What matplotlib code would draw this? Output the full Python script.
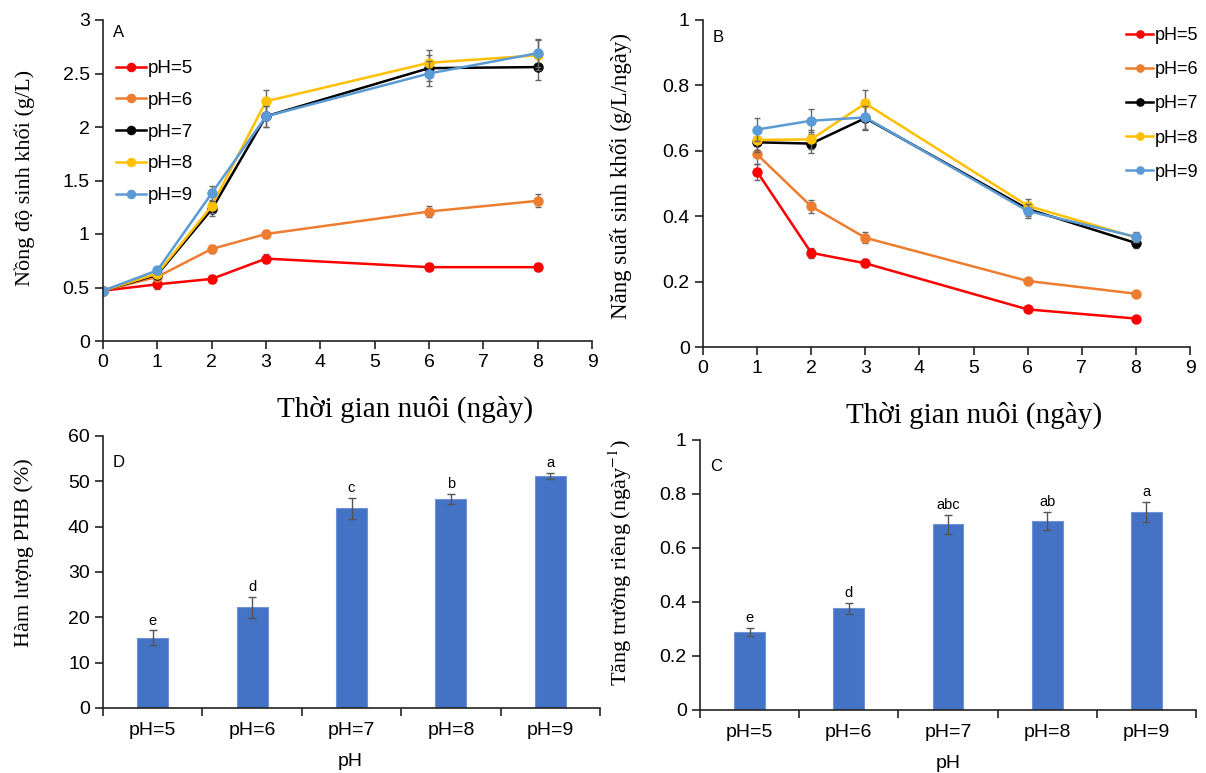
import numpy as np
import matplotlib
matplotlib.use("Agg")
import matplotlib.pyplot as plt

plt.rcParams['font.family'] = ['Liberation Sans', 'DejaVu Sans']
plt.rcParams['mathtext.fontset'] = 'stix'

# số liệu
days = [0, 1, 2, 3, 6, 8]
days_b = [1, 2, 3, 6, 8]
ph_names = ['pH=5', 'pH=6', 'pH=7', 'pH=8', 'pH=9']
colors = ['#FF0000', '#ED7D31', '#000000', '#FFC000', '#5B9BD5']

# A: nồng độ sinh khối (g/L)
bio_ph5 = [0.47, 0.53, 0.58, 0.77, 0.69, 0.69]
bio_ph6 = [0.47, 0.60, 0.86, 1.00, 1.21, 1.31]
bio_ph7 = [0.47, 0.62, 1.23, 2.10, 2.55, 2.56]
bio_ph8 = [0.47, 0.63, 1.26, 2.24, 2.60, 2.67]
bio_ph9 = [0.47, 0.66, 1.38, 2.10, 2.50, 2.69]
bio_err5 = [0.02, 0.04, 0.04, 0.04, 0.04, 0.04]
bio_err6 = [0.02, 0.03, 0.04, 0.04, 0.05, 0.06]
bio_err7 = [0.02, 0.04, 0.06, 0.10, 0.12, 0.12]
bio_err8 = [0.02, 0.04, 0.06, 0.11, 0.12, 0.14]
bio_err9 = [0.02, 0.03, 0.07, 0.10, 0.12, 0.13]

# B: năng suất sinh khối (g/L/ngày)
prod_ph5 = [0.536, 0.288, 0.256, 0.115, 0.087]
prod_ph6 = [0.589, 0.430, 0.334, 0.202, 0.163]
prod_ph7 = [0.626, 0.622, 0.700, 0.422, 0.318]
prod_ph8 = [0.633, 0.635, 0.745, 0.432, 0.335]
prod_ph9 = [0.665, 0.692, 0.702, 0.416, 0.337]
prod_err5 = [0.025, 0.015, 0.012, 0.008, 0.006]
prod_err6 = [0.03, 0.02, 0.017, 0.01, 0.008]
prod_err7 = [0.03, 0.03, 0.035, 0.02, 0.015]
prod_err8 = [0.03, 0.03, 0.04, 0.02, 0.015]
prod_err9 = [0.035, 0.035, 0.035, 0.02, 0.015]

# D: hàm lượng PHB (%)
phb = [15.5, 22.2, 44.1, 46.2, 51.2]
phb_err = [1.6, 2.3, 2.3, 1.1, 0.6]
phb_letters = ['e', 'd', 'c', 'b', 'a']

# C: tăng trưởng riêng (ngày-1)
mu = [0.288, 0.377, 0.688, 0.700, 0.733]
mu_err = [0.015, 0.02, 0.035, 0.035, 0.038]
mu_letters = ['e', 'd', 'abc', 'ab', 'a']

W, H = 1206, 773
fig = plt.figure(figsize=(W / 100, H / 100), dpi=100)
serif = 'Liberation Serif'
TICK = 14


def rect(l, r, t, b):
    return [l / W, 1 - b / H, (r - l) / W, (b - t) / H]


def style(ax):
    for s in ['top', 'right']:
        ax.spines[s].set_visible(False)
    for s in ['left', 'bottom']:
        ax.spines[s].set_linewidth(1.2)
        ax.spines[s].set_color('#222222')
    ax.tick_params(direction='out', length=6, width=1.2, labelsize=TICK, colors='#222222')
    ax.tick_params(labelcolor='black')


def lines(ax, x, series, errs):
    for y, e, c, n in zip(series, errs, colors, ph_names):
        ax.errorbar(x, y, yerr=e, fmt='none', ecolor='#666666', elinewidth=1, capsize=2.5)
        ax.plot(x, y, color=c, marker='o', markersize=6.5, linewidth=1.8, label=n)


# ---- A
axA = fig.add_axes(rect(103, 592, 20, 341))
lines(axA, days, [bio_ph5, bio_ph6, bio_ph7, bio_ph8, bio_ph9],
      [bio_err5, bio_err6, bio_err7, bio_err8, bio_err9])
axA.set_xlim(0, 9)
axA.set_ylim(0, 3)
axA.set_xticks(range(10))
axA.set_yticks([0, 0.5, 1, 1.5, 2, 2.5, 3])
axA.set_yticklabels(['0', '0.5', '1', '1.5', '2', '2.5', '3'])
style(axA)
axA.text(0.02, 0.985, 'A', transform=axA.transAxes, fontsize=12, va='top')
axA.legend(loc='center left', bbox_to_anchor=(116 / W, 1 - 132 / H), bbox_transform=fig.transFigure,
           frameon=False, fontsize=13.5, handlelength=1.6, handletextpad=0.1,
           labelspacing=0.78, borderaxespad=0, borderpad=0, markerscale=0.9)
fig.text(405 / W, 1 - 409 / H, 'Thời gian nuôi (ngày)', family=serif, fontsize=21,
         ha='center', va='center')
fig.text(25 / W, 1 - 178 / H, 'Nồng độ sinh khối (g/L)', family=serif, fontsize=16,
         rotation=90, ha='center', va='center')

# ---- B
axB = fig.add_axes(rect(703, 1190, 20, 347))
lines(axB, days_b, [prod_ph5, prod_ph6, prod_ph7, prod_ph8, prod_ph9],
      [prod_err5, prod_err6, prod_err7, prod_err8, prod_err9])
axB.set_xlim(0, 9)
axB.set_ylim(0, 1)
axB.set_xticks(range(10))
axB.set_yticks([0, 0.2, 0.4, 0.6, 0.8, 1])
axB.set_yticklabels(['0', '0.2', '0.4', '0.6', '0.8', '1'])
style(axB)
axB.text(0.02, 0.97, 'B', transform=axB.transAxes, fontsize=12, va='top')
axB.legend(loc='center left', bbox_to_anchor=(1126 / W, 1 - 104 / H), bbox_transform=fig.transFigure,
           frameon=False, fontsize=13, handlelength=1.5, handletextpad=0.1,
           labelspacing=0.95, borderaxespad=0, borderpad=0, markerscale=0.8)
fig.text(974 / W, 1 - 415 / H, 'Thời gian nuôi (ngày)', family=serif, fontsize=21,
         ha='center', va='center')
fig.text(621 / W, 1 - 176 / H, 'Năng suất sinh khối (g/L/ngày)', family=serif, fontsize=16.5,
         rotation=90, ha='center', va='center')


def bars(ax, vals, errs, letters, top):
    x = np.arange(len(vals))
    ax.bar(x, vals, width=0.31, color='#4472C4', edgecolor='#6F93D6', linewidth=0.8)
    ax.errorbar(x, vals, yerr=errs, fmt='none', ecolor='#555555', elinewidth=1, capsize=3)
    for xi, v, e, t in zip(x, vals, errs, letters):
        ax.annotate(t, (xi, v + e), xytext=(0, 2), textcoords='offset points',
                    ha='center', va='bottom', fontsize=10.5)
    ax.set_xlim(-0.5, len(vals) - 0.5)
    ax.set_ylim(0, top)
    ax.set_xticks(np.arange(len(vals) + 1) - 0.5)
    ax.set_xticklabels([])
    ax.set_xticks(x, minor=True)
    ax.set_xticklabels(ph_names, minor=True)
    style(ax)
    ax.tick_params(axis='x', which='minor', length=0, labelsize=TICK, pad=10)


# ---- D
axD = fig.add_axes(rect(103, 600, 436, 708))
bars(axD, phb, phb_err, phb_letters, 60)
axD.set_yticks(range(0, 61, 10))
axD.text(0.02, 0.93, 'D', transform=axD.transAxes, fontsize=12, va='top')
fig.text(350 / W, 1 - 761 / H, 'pH', fontsize=TICK, ha='center', va='center')
fig.text(24 / W, 1 - 553 / H, 'Hàm lượng PHB (%)', family=serif, fontsize=16,
         rotation=90, ha='center', va='center')

# ---- C
axC = fig.add_axes(rect(700, 1196, 440, 710))
bars(axC, mu, mu_err, mu_letters, 1)
axC.set_yticks([0, 0.2, 0.4, 0.6, 0.8, 1])
axC.set_yticklabels(['0', '0.2', '0.4', '0.6', '0.8', '1'])
axC.text(0.02, 0.93, 'C', transform=axC.transAxes, fontsize=12, va='top')
fig.text(948 / W, 1 - 764 / H, 'pH', fontsize=TICK, ha='center', va='center')
fig.text(620 / W, 1 - 563 / H, 'Tăng trưởng riêng (ngày$^{-1}$)', family=serif, fontsize=16,
         rotation=90, ha='center', va='center')

fig.savefig('out.png', dpi=100)
